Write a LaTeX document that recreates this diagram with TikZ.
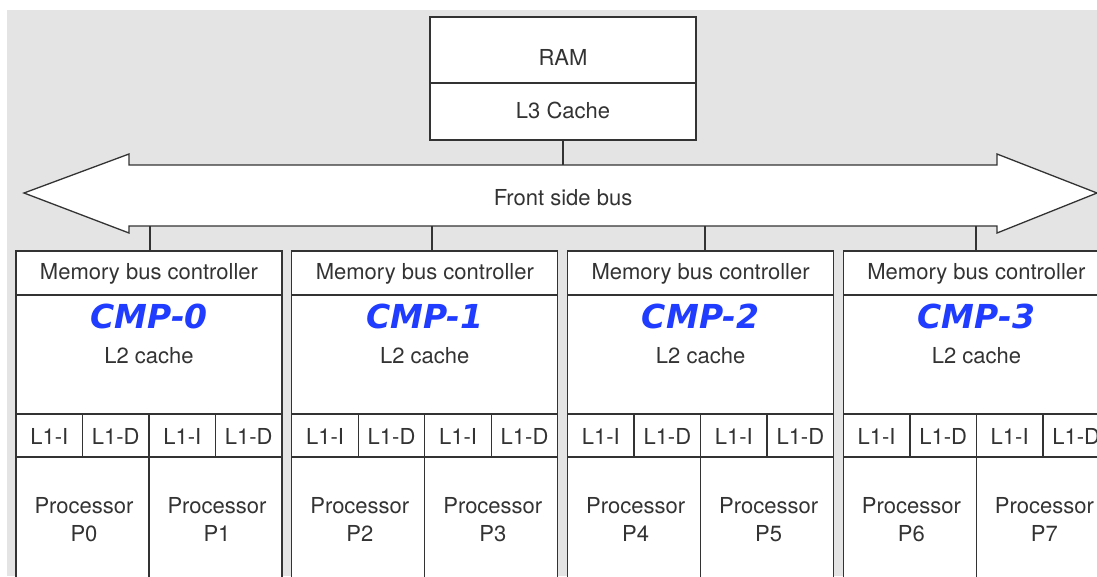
\documentclass[tikz,border=0pt]{standalone}
\usepackage{fontspec}
\usetikzlibrary{calc}
\setmainfont{TeX Gyre Heros}
\newfontfamily\cmpfont{DejaVu Sans}
\definecolor{bg}{HTML}{E4E4E4}
\definecolor{ink}{HTML}{333333}
\definecolor{cmpblue}{HTML}{1F3CFF}
\begin{document}
\begin{tikzpicture}[x=1pt,y=-1pt,
  box/.style={draw=ink,line width=1.3pt,fill=white,inner sep=0pt,outer sep=0pt,anchor=north west},
  lbl/.style={text=ink,inner sep=0pt,anchor=base,font=\fontsize{22}{24}\selectfont},
  cmplbl/.style={text=cmpblue,inner sep=0pt,anchor=base,font=\cmpfont\bfseries\itshape\fontsize{33}{36}\selectfont},
  wire/.style={draw=ink,line width=1.3pt}]
\useasboundingbox (0,0) rectangle (1097,576);
\clip (0,0) rectangle (1097,576);
\fill[white] (0,0) rectangle (1097,576);
\fill[bg] (7,10) rectangle (1097,576);
% RAM and L3
\node[box,minimum width=266pt,minimum height=66pt] (ram) at (430,17) {};
\node[box,minimum width=266pt,minimum height=57pt] (l3) at (430,83) {};
\node[lbl] (ramt) at (563,65) {RAM};
\node[lbl] (l3t) at (563,118) {L3 Cache};
% Front side bus
\draw[wire,fill=white] (24,193) -- (129,154) -- (129,165) -- (997,165) -- (997,154) -- (1097,193)
  -- (997,233) -- (997,226) -- (129,226) -- (129,233) -- cycle;
\node[lbl] (bus) at (563,205) {Front side bus};
\coordinate (bustop) at (563,165);
\draw[wire] (l3.south) -- (bustop);
% CMPs
\foreach \k/\cx in {0/150,1/432,2/705,3/976}{
  \pgfmathsetmacro{\lx}{16+275.8*\k}
  \pgfmathsetmacro{\mx}{\lx+133}
  \pgfmathtruncatemacro{\pa}{2*\k}
  \pgfmathtruncatemacro{\pb}{2*\k+1}
  \node[box,minimum width=266pt,minimum height=44pt] (mbc\k) at (\lx,251) {};
  \node[box,minimum width=266pt,minimum height=119pt] (ltwo\k) at (\lx,295) {};
  \node[box,minimum width=66.5pt,minimum height=43pt] (li\k a) at (\lx,414) {};
  \node[box,minimum width=66.5pt,minimum height=43pt] (ld\k a) at (\lx+66.5,414) {};
  \node[box,minimum width=66.5pt,minimum height=43pt] (li\k b) at (\lx+133,414) {};
  \node[box,minimum width=66.5pt,minimum height=43pt] (ld\k b) at (\lx+199.5,414) {};
  \node[box,minimum width=133pt,minimum height=124pt] (pr\k a) at (\lx,457) {};
  \node[box,minimum width=133pt,minimum height=124pt] (pr\k b) at (\lx+133,457) {};
  \node[lbl] at (\mx,279) {Memory bus controller};
  \node[cmplbl] at (\mx,328) {CMP-\k};
  \node[lbl] at (\mx,363) {L2 cache};
  \node[lbl] at ($(li\k a.center)+(0,8.5)$) {L1-I};
  \node[lbl] at ($(ld\k a.center)+(0,8.5)$) {L1-D};
  \node[lbl] at ($(li\k b.center)+(0,8.5)$) {L1-I};
  \node[lbl] at ($(ld\k b.center)+(0,8.5)$) {L1-D};
  \node[lbl] at (\lx+68,513) {Processor};
  \node[lbl] at (\lx+68,541) {P\pa};
  \node[lbl] at (\lx+201,513) {Processor};
  \node[lbl] at (\lx+201,541) {P\pb};
  \coordinate (bb\k) at (\cx,226);
  \draw[wire] (bb\k) -- (bb\k |- mbc\k.north);
}
\end{tikzpicture}
\end{document}
